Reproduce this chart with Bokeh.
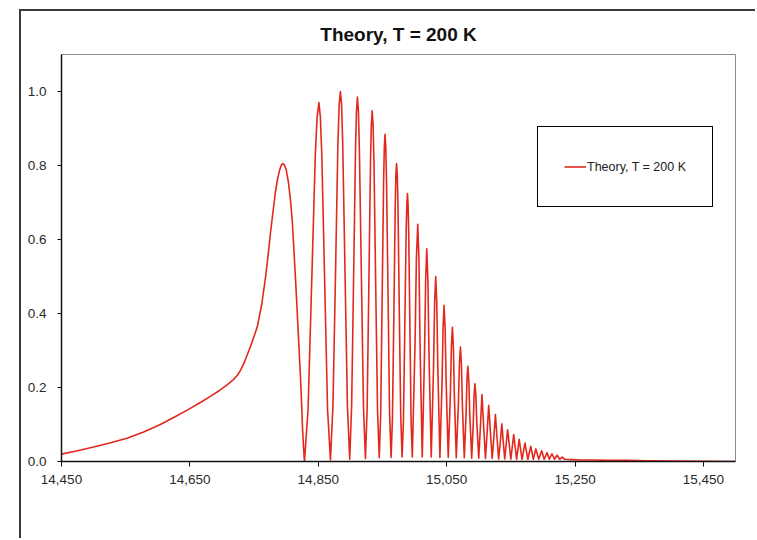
from bokeh.plotting import figure
from bokeh.models import ColumnDataSource, FixedTicker, NumeralTickFormatter
from bokeh.embed import file_html
from bokeh.resources import INLINE

# Smooth rise up to the first (broad) maximum and down to the first zero
rise_x = [14450, 14475, 14500, 14525, 14552, 14578, 14604, 14627, 14650, 14667,
          14682, 14696, 14708, 14717, 14724, 14729, 14734, 14742, 14748, 14755,
          14762, 14768, 14772, 14775.5, 14779.5, 14783, 14786.5, 14790, 14792.5, 14794.7,
          14797, 14800, 14803.5, 14806.7, 14809.5, 14811.8, 14814.5, 14817.1, 14819.7, 14822.3,
          14824, 14825.4, 14827, 14828.5]
rise_y = [0.020, 0.029, 0.039, 0.050, 0.063, 0.080, 0.100, 0.121, 0.143, 0.160,
          0.176, 0.192, 0.207, 0.220, 0.233, 0.247, 0.265, 0.300, 0.328, 0.364,
          0.425, 0.500, 0.560, 0.617, 0.675, 0.725, 0.763, 0.789, 0.801, 0.805,
          0.802, 0.789, 0.755, 0.707, 0.650, 0.581, 0.495, 0.409, 0.318, 0.228,
          0.160, 0.093, 0.040, 0.0]

# Fringe maxima
peak_x = [14851, 14884.5, 14911, 14934, 14954, 14972, 14989, 15005, 15019, 15033,
          15046, 15059, 15071.5, 15083, 15094, 15105, 15115.5, 15126, 15136, 15145,
          15154.5, 15163, 15172, 15181, 15189, 15198, 15206.5, 15214, 15222, 15230]
peak_y = [0.970, 1.000, 0.985, 0.948, 0.884, 0.805, 0.724, 0.641, 0.575, 0.500,
          0.422, 0.363, 0.309, 0.257, 0.210, 0.181, 0.152, 0.127, 0.102, 0.086,
          0.073, 0.060, 0.050, 0.041, 0.034, 0.029, 0.024, 0.021, 0.017, 0.012]

# Fringe minima
trough_x = [14869, 14899, 14923.5, 14945, 14963.5, 14980.6, 14996.5, 15012, 15026, 15039.5,
            15052.5, 15065, 15077.5, 15089, 15100, 15110.5, 15121, 15131, 15140.5, 15150,
            15159, 15167.5, 15176.5, 15185, 15193.5, 15202, 15210, 15218, 15226, 15234]
trough_y = [0.004, 0.006, 0.008, 0.010, 0.011, 0.012, 0.012, 0.012, 0.012, 0.011,
            0.011, 0.010, 0.010, 0.009, 0.009, 0.008, 0.008, 0.007, 0.007, 0.006,
            0.006, 0.006, 0.006, 0.006, 0.006, 0.006, 0.006, 0.006, 0.006, 0.006]

# Points on the flanks and rounded tops of the wider fringes
flank_x = [14834.1, 14839.8, 14845.4, 14848.2, 14853.3, 14855.5, 14860, 14864.5,
           14872.9, 14876.8, 14880.6, 14882.6, 14886.3, 14888.1, 14891.8, 14895.4,
           14902, 14905, 14908, 14909.5, 14912.6, 14914.1, 14917.3, 14920.4,
           14926.1, 14928.8, 14931.4, 14932.7, 14935.4, 14936.8, 14939.5, 14942.3,
           14947.3, 14949.5, 14951.8, 14952.9, 14955.2, 14956.4, 14958.8, 14961.1,
           14965.6, 14967.8, 14969.9, 14970.9, 14973.1, 14974.2, 14976.3, 14978.5,
           14982.7, 14984.8, 14986.9, 14988, 14989.9, 14990.9, 14992.8, 14994.6,
           15000.8, 15002.9, 15006.8, 15008.5,
           15015.5, 15017.3, 15020.8, 15022.5,
           15029.5, 15031.3, 15034.6, 15036.3,
           15042.8, 15044.4, 15047.6, 15049.3,
           15055.8, 15057.4, 15060.5, 15062,
           15068.3, 15069.9, 15073, 15074.5,
           15080.3, 15081.6, 15084.5, 15086,
           15091.5, 15092.8, 15095.5, 15097,
           15102.5, 15107.8, 15113, 15118.3, 15123.5, 15128.5, 15133.5, 15138.3]
flank_y = [0.14, 0.485, 0.83, 0.93, 0.93, 0.83, 0.485, 0.14,
           0.15, 0.50, 0.86, 0.965, 0.965, 0.86, 0.50, 0.15,
           0.15, 0.49, 0.84, 0.945, 0.945, 0.84, 0.49, 0.15,
           0.14, 0.475, 0.81, 0.91, 0.91, 0.81, 0.475, 0.14,
           0.13, 0.44, 0.755, 0.85, 0.85, 0.755, 0.44, 0.13,
           0.12, 0.40, 0.69, 0.775, 0.775, 0.69, 0.40, 0.12,
           0.11, 0.36, 0.62, 0.695, 0.695, 0.62, 0.36, 0.11,
           0.32, 0.55, 0.55, 0.32,
           0.29, 0.49, 0.49, 0.29,
           0.25, 0.43, 0.43, 0.25,
           0.21, 0.36, 0.36, 0.21,
           0.18, 0.31, 0.31, 0.18,
           0.155, 0.265, 0.265, 0.155,
           0.13, 0.22, 0.22, 0.13,
           0.105, 0.18, 0.18, 0.105,
           0.09, 0.09, 0.076, 0.076, 0.064, 0.064, 0.051, 0.051]

# Flat tail after the last resolved fringe
tail_x = [15245, 15260, 15280, 15300, 15330, 15363, 15400, 15500]
tail_y = [0.005, 0.004, 0.004, 0.003, 0.003, 0.002, 0.001, 0.0]

x_ticks = [14450, 14650, 14850, 15050, 15250, 15450]
y_ticks = [0.0, 0.2, 0.4, 0.6, 0.8, 1.0]

series_label = "Theory, T = 200 K"

pts = sorted(zip(rise_x + peak_x + trough_x + flank_x + tail_x,
                 rise_y + peak_y + trough_y + flank_y + tail_y))
source = ColumnDataSource(data=dict(x=[a for a, _ in pts], y=[b for _, b in pts]))

FONT = "Liberation Sans"

p = figure(width=736, height=529, x_range=(14450, 15500), y_range=(0, 1.1),
           output_backend="svg", toolbar_location=None,
           min_border_left=40, min_border_right=22, min_border_top=43, min_border_bottom=79,
           title=series_label)
p.margin = (9, 0, 0, 19)
p.styles = {"border-left": "2px solid #3a3a3a", "border-top": "2px solid #3a3a3a"}

p.line("x", "y", source=source, line_color="#e2281c", line_width=1.6,
       line_join="round", legend_label=series_label)

p.title.align = "center"
p.title.text_font = FONT
p.title.text_font_size = "19px"
p.title.text_font_style = "bold"
p.title.text_color = "#111111"
p.title.standoff = 20

p.grid.visible = False
p.outline_line_color = "#8c8c8c"
p.outline_line_width = 1

p.xaxis.ticker = FixedTicker(ticks=x_ticks)
p.xaxis.formatter = NumeralTickFormatter(format="0,0")
p.yaxis.ticker = FixedTicker(ticks=y_ticks)
p.yaxis.formatter = NumeralTickFormatter(format="0.0")
for ax in (p.xaxis[0], p.yaxis[0]):
    ax.axis_line_color = "#111111"
    ax.axis_line_width = 1.5
    ax.major_tick_line_color = "#111111"
    ax.major_tick_in = 0
    ax.minor_tick_line_color = None
    ax.major_label_text_font = FONT
    ax.major_label_text_font_size = "13.5px"
    ax.major_label_text_color = "#2a2a2a"
p.xaxis.major_tick_out = 5
p.xaxis.major_label_standoff = 8
p.yaxis.major_tick_out = 4
p.yaxis.major_label_standoff = 11

lg = p.legend[0]
lg.location = (476, 254)
lg.margin = 0
lg.padding = 26
lg.spacing = 0
lg.glyph_width = 22
lg.glyph_height = 27
lg.label_height = 27
lg.label_standoff = 1
lg.label_text_font = FONT
lg.label_text_font_size = "12.5px"
lg.label_text_color = "#222222"
lg.border_line_color = "#000000"
lg.border_line_alpha = 1.0
lg.border_line_width = 1.5
lg.background_fill_color = "white"
lg.background_fill_alpha = 1.0

open("out.html", "w").write(file_html(p, INLINE))
